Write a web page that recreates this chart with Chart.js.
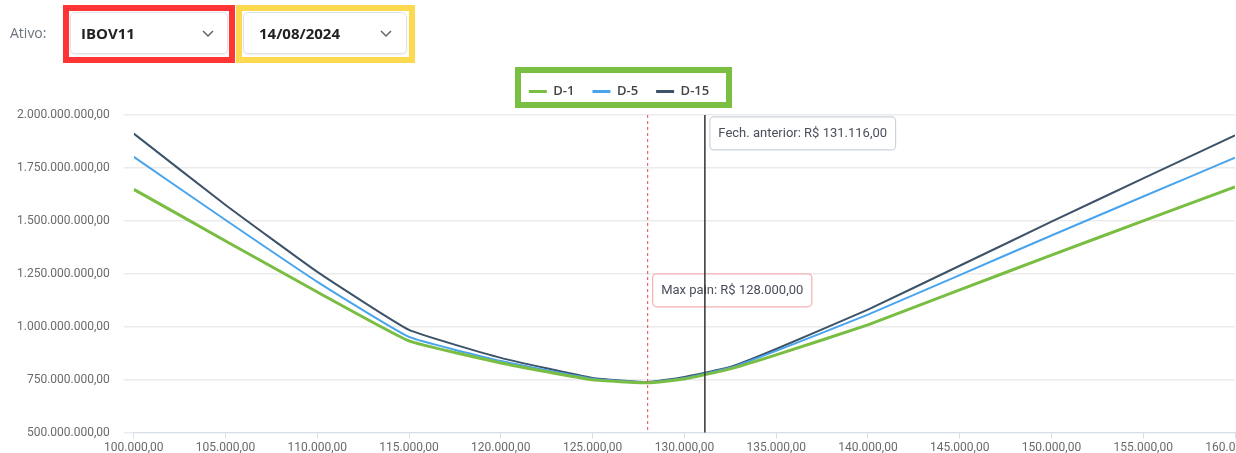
<!DOCTYPE html>
<html lang="pt-BR">
<head>
<meta charset="utf-8">
<title>Max pain</title>
<script src="https://cdn.jsdelivr.net/npm/chart.js@4.4.1/dist/chart.umd.min.js"></script>
<style>
  html, body { margin: 0; padding: 0; background: #fff; overflow: hidden; }
  body { width: 1236px; height: 453px; position: relative; font-family: 'Open Sans', sans-serif; }
  #wrap { position: absolute; left: 0; top: 0; }
  .lbl { position: absolute; left: 10px; top: 23px; font-size: 14px; color: #6c757d; }
  .hl { position: absolute; box-sizing: border-box; z-index: 2; }
  .sel {
    position: absolute; box-sizing: border-box; height: 42px; top: 12px;
    background: #fff; border: 1px solid #dfe3e8; border-radius: 5px;
    box-shadow: 0 1px 2px rgba(0,0,0,0.08); z-index: 1;
  }
  .sel b { position: absolute; left: 10px; top: 10px; font-size: 15px; color: #222; }
  .sel svg { position: absolute; top: 17px; }
</style>
</head>
<body>
<div id="wrap"><canvas id="chart" width="1268" height="457"></canvas></div>

<!-- seletores do topo -->
<span class="lbl">Ativo:</span>
<div class="sel" style="left:70px; width:158px;"><b>IBOV11</b>
  <svg style="left:131px" width="12" height="8"><polyline points="1,1 6,6 11,1" fill="none" stroke="#666" stroke-width="1.5"/></svg>
</div>
<div class="sel" style="left:243px; width:164px;"><b style="left:15px">14/08/2024</b>
  <svg style="left:136px" width="12" height="8"><polyline points="1,1 6,6 11,1" fill="none" stroke="#666" stroke-width="1.5"/></svg>
</div>

<!-- destaques coloridos -->
<div class="hl" style="left:63px; top:5px; width:172px; height:58px; border:6px solid #ff3434;"></div>
<div class="hl" style="left:236px; top:5px; width:179px; height:58px; border:6px solid #fdd94f;"></div>
<div class="hl" style="left:515px; top:67px; width:217px; height:41px; border:6px solid #78bf43;"></div>

<script>
// strikes (eixo x) e valores de cada série
const strikes = [100000, 105000, 110000, 115000, 120000, 125000, 128000, 130000, 132500, 135000, 140000, 145000, 150000, 155000, 160000];
const d1  = [1649e6, 1405e6, 1164e6, 933e6, 829e6, 749e6, 735e6, 753e6, 801e6, 867e6, 1009e6, 1174e6, 1338e6, 1500e6, 1660e6];
const d5  = [1802e6, 1504e6, 1212e6, 952e6, 838e6, 754e6, 737e6, 758e6, 806e6, 886e6, 1057e6, 1244e6, 1431e6, 1615e6, 1798e6];
const d15 = [1912e6, 1575e6, 1259e6, 985e6, 853e6, 758e6, 739e6, 763e6, 810e6, 895e6, 1081e6, 1288e6, 1496e6, 1701e6, 1904e6];
const seriesNames = ['D-1', 'D-5', 'D-15'];

const maxPain = 128000;
const fechAnterior = 131116;

const yMin = 500000000, yMax = 2000000000, yStep = 250000000;
const xMin = 100000, xMax = 160000, xStep = 5000;

// formata no padrão brasileiro: 1.234.567,00
function fmtBR(v) {
    const parts = Math.abs(v).toFixed(2).split('.');
    return (v < 0 ? '-' : '') + parts[0].replace(/\B(?=(\d{3})+(?!\d))/g, '.') + ',' + parts[1];
}

function toPoints(values) {
    return strikes.map((s, i) => ({ x: s, y: values[i] }));
}

// linhas verticais com caixinha de texto (max pain / fechamento anterior)
const refLines = [
    { value: maxPain, text: 'Max pain: R$ ' + fmtBR(maxPain), color: '#e4474d', dash: [3, 3], width: 1, border: '#f5b0b2', top: 0.5 },
    { value: fechAnterior, text: 'Fech. anterior: R$ ' + fmtBR(fechAnterior), color: '#333333', dash: [], width: 1.5, border: '#cbd3dd', top: 0.006 }
];

const refLinesPlugin = {
    id: 'refLines',
    afterDatasetsDraw(chart) {
        const { ctx, chartArea, scales } = chart;
        refLines.forEach(r => {
            const px = scales.x.getPixelForValue(r.value);
            ctx.save();
            ctx.strokeStyle = r.color;
            ctx.lineWidth = r.width;
            ctx.setLineDash(r.dash);
            ctx.beginPath();
            ctx.moveTo(px, chartArea.top);
            ctx.lineTo(px, chartArea.bottom);
            ctx.stroke();

            // caixa do rótulo
            ctx.setLineDash([]);
            ctx.font = "13px Roboto, sans-serif";
            const w = ctx.measureText(r.text).width + 17;
            const h = 33;
            const bx = px + 5;
            const by = chartArea.top + (chartArea.bottom - chartArea.top) * r.top;
            ctx.fillStyle = '#ffffff';
            ctx.strokeStyle = r.border;
            ctx.lineWidth = 1.2;
            ctx.beginPath();
            ctx.roundRect(bx, by, w, h, 4);
            ctx.fill();
            ctx.stroke();
            ctx.fillStyle = '#4b4f5c';
            ctx.textBaseline = 'middle';
            ctx.fillText(r.text, bx + 8.5, by + h / 2 + 0.5);
            ctx.restore();
        });
    }
};

// espaço extra abaixo da legenda
const legendMargin = {
    id: 'legendMargin',
    beforeInit(chart) {
        const fit = chart.legend.fit;
        chart.legend.fit = function () {
            fit.bind(chart.legend)();
            this.height += 7;
        };
    }
};

Chart.defaults.font.family = "Roboto, sans-serif";
Chart.defaults.font.size = 12;
Chart.defaults.color = '#6a6a6a';

const ctx = document.getElementById('chart').getContext('2d');
const myChart = new Chart(ctx, {
    type: 'line',
    data: {
        datasets: [
            { label: seriesNames[0], data: toPoints(d1), borderColor: '#79be42', backgroundColor: '#79be42', borderWidth: 3 },
            { label: seriesNames[1], data: toPoints(d5), borderColor: '#49a4ee', backgroundColor: '#49a4ee', borderWidth: 2 },
            { label: seriesNames[2], data: toPoints(d15), borderColor: '#3c5369', backgroundColor: '#3c5369', borderWidth: 2 }
        ]
    },
    options: {
        responsive: false,
        animation: false,
        layout: { padding: { left: 3, right: 33, top: 67, bottom: 0 } },
        elements: { point: { radius: 0 }, line: { tension: 0.12 } },
        plugins: {
            legend: {
                position: 'top',
                labels: {
                    boxWidth: 18,
                    boxHeight: 3,
                    padding: 18,
                    color: '#444',
                    font: { family: "'Open Sans', sans-serif", size: 13, weight: '600' },
                    generateLabels(chart) {
                        return Chart.defaults.plugins.legend.labels.generateLabels(chart)
                            .map(l => Object.assign(l, { lineWidth: 0 }));
                    }
                }
            },
            tooltip: { enabled: false }
        },
        scales: {
            x: {
                type: 'linear',
                min: xMin,
                max: xMax,
                border: { color: '#d5deea' },
                grid: { drawOnChartArea: false, color: '#d5deea', tickLength: 6 },
                ticks: { stepSize: xStep, maxRotation: 0, padding: 2, callback: v => fmtBR(v) }
            },
            y: {
                min: yMin,
                max: yMax,
                border: { display: false },
                grid: { color: '#ebebeb', lineWidth: 1.5, tickLength: 10 },
                ticks: { stepSize: yStep, padding: 14, callback: v => fmtBR(v) }
            }
        }
    },
    plugins: [refLinesPlugin, legendMargin]
});
</script>
</body>
</html>
